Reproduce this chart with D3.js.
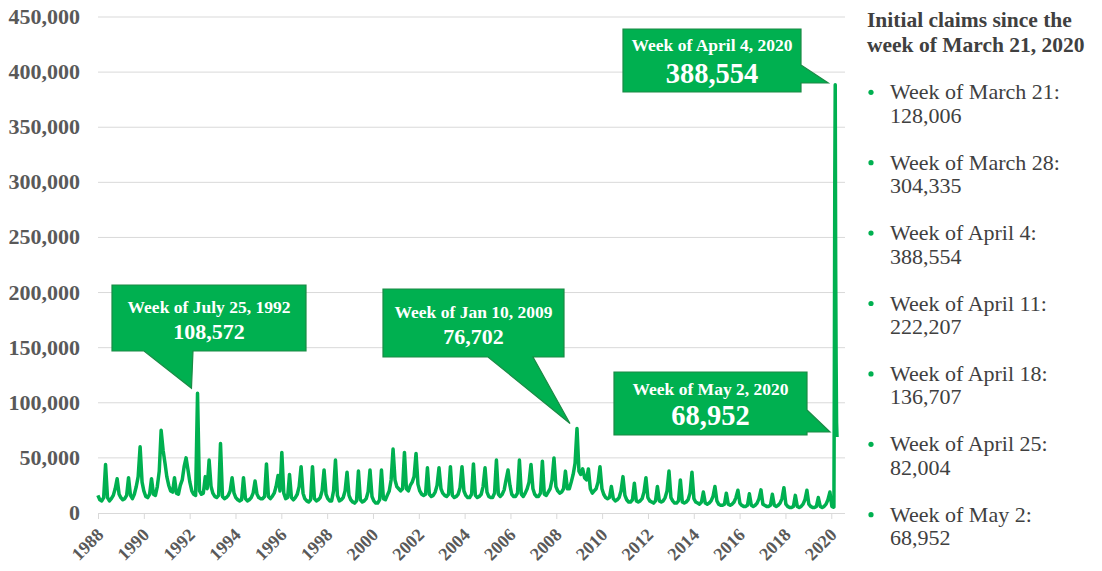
<!DOCTYPE html>
<html>
<head>
<meta charset="utf-8">
<script src="https://cdn.jsdelivr.net/npm/d3@7.9.0/dist/d3.min.js"></script>
<style>
  html, body { margin: 0; padding: 0; background: #fff; }
  svg { display: block; font-family: "Liberation Serif", "Times New Roman", serif; }
</style>
</head>
<body>
<div id="chart"></div>
<script>
// monthly claims (thousands), Jan..Dec, one row per year starting 1988
const firstYear = 1988;
const monthlyClaims = [
  [null, null, 16, 12, 11, 14, 44, 14, 11, 13, 16, 22],
  [31, 17, 14, 12, 13, 16, 32, 16, 13, 17, 24, 33],
  [60, 28, 20, 15, 14, 17, 31, 17, 16, 24, 38, 75],
  [57, 45, 33, 25, 20, 19, 32, 18, 17, 25, 30, 42],
  [50, 39, 28, 20, 17, 16, 108.572, 20, 17, 18, 33, 22],
  [48, 24, 18, 15, 14, 16, 63, 15, 13, 14, 16, 20],
  [32, 18, 14, 12, 11, 12, 32, 13, 11, 12, 14, 18],
  [29, 17, 14, 13, 13, 15, 44.5, 15, 13, 15, 18, 24],
  [34, 20, 55, 18, 13, 14, 35, 14, 12, 14, 17, 24],
  [42, 18, 13, 11, 10, 12, 42, 13, 11, 12, 14, 20],
  [39, 17, 13, 11, 11, 20, 48, 16, 11, 12, 14, 20],
  [37, 16, 12, 10, 9, 11, 38, 12, 10, 11, 13, 19],
  [39, 15, 11, 9, 9, 12, 39, 13, 12, 16, 20, 30],
  [58, 30, 24, 22, 20, 22, 55, 22, 20, 25, 28, 33],
  [54, 26, 20, 17, 16, 17, 41, 17, 15, 16, 19, 25],
  [41, 22, 18, 16, 15, 17, 42, 16, 14, 15, 17, 23],
  [42, 20, 16, 14, 14, 17, 44.5, 16, 14, 15, 17, 24],
  [41, 19, 15, 14, 14, 18, 48, 17, 15, 17, 21, 30],
  [39, 25, 17, 15, 15, 18, 48, 17, 15, 18, 22, 28],
  [44, 22, 17, 15, 15, 18, 47, 17, 16, 19, 22, 30],
  [50, 24, 20, 18, 19, 22, 38, 22, 22, 28, 35, 45],
  [76.702, 38, 35, 40, 32, 30, 40, 22, 18, 20, 22, 28],
  [42, 22, 17, 14, 13, 14, 24, 13, 11, 12, 14, 20],
  [33, 16, 12, 10, 10, 12, 27, 11, 10, 11, 13, 19],
  [32, 14, 11, 10, 9, 11, 24, 11, 10, 11, 14, 20],
  [38, 14, 11, 9, 9, 11, 30, 10, 9, 10, 12, 18],
  [37, 13, 10, 9, 8, 10, 19, 9, 8, 9, 11, 15],
  [24, 11, 8, 7, 7, 8, 18, 8, 7, 8, 10, 14],
  [20.6, 9, 7, 6, 6, 7, 17.5, 7, 6, 7, 9, 13],
  [21, 8, 7, 6, 6, 7, 17, 7, 6, 7, 9, 13],
  [23, 8, 6, 5, 5, 6, 16, 6, 5, 6, 8, 12],
  [20.6, 8, 6, 5, 5, 6, 14, 6, 5, 6, 8, 12],
  [19, 6, null, null, null, null, null, null, null, null, null, null]
];

// weekly claims for spring 2020
const recentWeeks = ["2020-03-07", "2020-03-14", "2020-03-21", "2020-03-28", "2020-04-04",
                     "2020-04-11", "2020-04-18", "2020-04-25", "2020-05-02"];
const recentClaims = [5200, 5400, 128006, 304335, 388554, 222207, 136707, 82004, 68952];

const yTicks = [0, 50000, 100000, 150000, 200000, 250000, 300000, 350000, 400000, 450000];
const xTickLabels = ["1988", "1990", "1992", "1994", "1996", "1998", "2000", "2002", "2004",
                     "2006", "2008", "2010", "2012", "2014", "2016", "2018", "2020"];

const calloutLabels = ["Week of July 25, 1992", "Week of Jan 10, 2009", "Week of April 4, 2020", "Week of May 2, 2020"];
const calloutValues = [108572, 76702, 388554, 68952];
const calloutDates = ["1992-07-25", "2009-01-10", "2020-04-04", "2020-05-02"];

const legendTitle = ["Initial claims since the", "week of March 21, 2020"];
const legendWeeks = ["Week of March 21:", "Week of March 28:", "Week of April 4:", "Week of April 11:",
                     "Week of April 18:", "Week of April 25:", "Week of May 2:"];
const legendValues = ["128,006", "304,335", "388,554", "222,207", "136,707", "82,004", "68,952"];

const green = "#00b050";
const parse = d3.timeParse("%Y-%m-%d");

const data = [];
monthlyClaims.forEach((row, i) => {
  row.forEach((v, m) => {
    if (v != null) data.push({ date: new Date(firstYear + i, m, 10), value: v * 1000 });
  });
});
recentWeeks.forEach((w, i) => data.push({ date: parse(w), value: recentClaims[i] }));

const width = 1102, height = 571;
const startDate = new Date(1988, 2, 12);
const endDate = parse("2020-05-02");

const svg = d3.select("#chart").append("svg")
  .attr("width", width)
  .attr("height", height);

const x = d3.scaleTime().domain([startDate, endDate]).range([98, 837]);
const y = d3.scaleLinear().domain([0, 450000]).range([513, 17]);
const plotRight = 845;

// gridlines
svg.append("g")
  .selectAll("line")
  .data(yTicks.slice(1))
  .join("line")
  .attr("x1", 98).attr("x2", plotRight)
  .attr("y1", d => y(d)).attr("y2", d => y(d))
  .attr("stroke", "#d9d9d9").attr("stroke-width", 1);

// y labels
svg.append("g")
  .selectAll("text")
  .data(yTicks)
  .join("text")
  .attr("x", 80)
  .attr("y", d => y(d) + 7)
  .attr("text-anchor", "end")
  .attr("font-size", 22)
  .attr("font-weight", "bold")
  .attr("fill", "#595959")
  .text(d3.format(","));

// x axis (category style ticks every 104 weeks)
const tickDates = xTickLabels.map((_, k) => d3.timeWeek.offset(startDate, 104 * k));
const xAxis = svg.append("g")
  .attr("transform", `translate(0,${y(0)})`)
  .call(d3.axisBottom(x).tickValues(tickDates).tickFormat((d, i) => xTickLabels[i]).tickSize(6).tickSizeOuter(0));
xAxis.attr("font-family", null).attr("font-size", null);
xAxis.select(".domain").attr("stroke", "#d9d9d9").attr("d", `M98,0.5H${plotRight}`);
xAxis.selectAll(".tick line").attr("stroke", "#d9d9d9");
xAxis.selectAll(".tick text")
  .style("font-size", "18px")
  .style("font-weight", "bold")
  .attr("fill", "#595959")
  .attr("text-anchor", "end")
  .attr("dy", null)
  .attr("y", 0)
  .attr("transform", "translate(6,23) rotate(-45)");

// line
svg.append("path")
  .datum(data)
  .attr("fill", "none")
  .attr("stroke", green)
  .attr("stroke-width", 3.5)
  .attr("stroke-linejoin", "round")
  .attr("d", d3.line().x(d => x(d.date)).y(d => y(d.value)));

// callouts: box and pointer layout
const boxes = [
  { x0: 112, y0: 285, x1: 306, y1: 351, side: "bottom", b1: 144, b2: 193, titleDy: 28, valueDy: 54, valueSize: 22 },
  { x0: 383, y0: 289, x1: 564, y1: 357, side: "bottom", b1: 488, b2: 533, titleDy: 29, valueDy: 55, valueSize: 22 },
  { x0: 623, y0: 29, x1: 801, y1: 92, side: "right", b1: 65, b2: 83, titleDy: 22, valueDy: 54, valueSize: 28.5 },
  { x0: 614, y0: 372, x1: 807, y1: 435, side: "right", b1: 410, b2: 432, titleDy: 23, valueDy: 53, valueSize: 28.5 }
];

boxes.forEach((b, i) => {
  const tx = x(parse(calloutDates[i])) - 7;
  const ty = y(calloutValues[i]) - 5;
  let d;
  if (b.side === "bottom") {
    d = `M${b.x0},${b.y0}H${b.x1}V${b.y1}H${b.b2}L${tx},${ty}L${b.b1},${b.y1}H${b.x0}Z`;
  } else {
    d = `M${b.x0},${b.y0}H${b.x1}V${b.b1}L${tx},${b.b2}L${b.x1},${b.b2}V${b.y1}H${b.x0}Z`;
  }
  const g = svg.append("g");
  g.append("path").attr("d", d).attr("fill", green).attr("stroke", "#1a8a45").attr("stroke-width", 1.2);
  const cx = (b.x0 + b.x1) / 2;
  g.append("text")
    .attr("x", cx).attr("y", b.y0 + b.titleDy)
    .attr("text-anchor", "middle")
    .attr("font-size", 17.5).attr("font-weight", "bold").attr("fill", "#fff")
    .text(calloutLabels[i]);
  g.append("text")
    .attr("x", cx).attr("y", b.y0 + b.valueDy)
    .attr("text-anchor", "middle")
    .attr("font-size", b.valueSize).attr("font-weight", "bold").attr("fill", "#fff")
    .text(d3.format(",")(calloutValues[i]));
});

// legend panel
const legend = svg.append("g").attr("fill", "#404040");
legend.selectAll("text.title")
  .data(legendTitle)
  .join("text")
  .attr("class", "title")
  .attr("x", 867).attr("y", (d, i) => 27 + i * 25)
  .attr("font-size", 21.5).attr("font-weight", "bold")
  .text(d => d);

const items = legend.selectAll("g.item")
  .data(legendWeeks)
  .join("g")
  .attr("class", "item")
  .attr("transform", (d, i) => `translate(0,${99.3 + i * 70.4})`);
items.append("circle").attr("cx", 871).attr("cy", -7).attr("r", 2.6).attr("fill", green);
items.append("text").attr("x", 890).attr("y", 0).attr("font-size", 22).text(d => d);
items.append("text").attr("x", 890).attr("y", 23.5).attr("font-size", 22).text((d, i) => legendValues[i]);
</script>
</body>
</html>
